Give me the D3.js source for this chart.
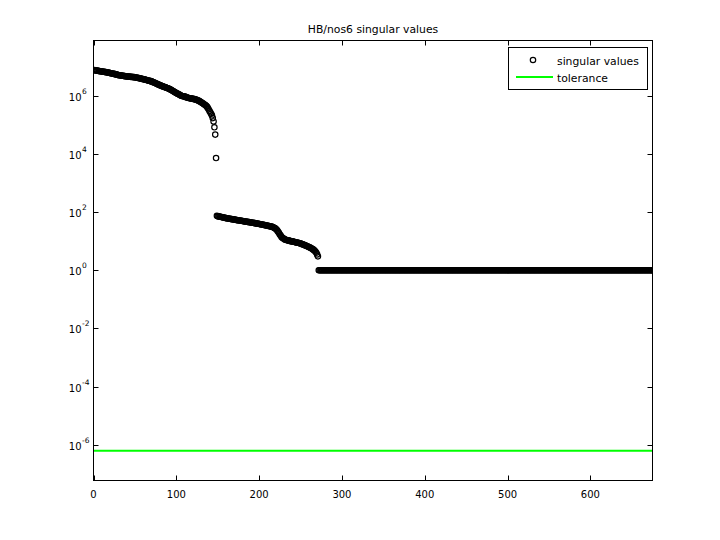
<!DOCTYPE html>
<html><head><meta charset="utf-8">
<script src="https://cdn.jsdelivr.net/npm/d3@7"></script>
<style>body{margin:0;background:#fff}</style>
</head><body>
<svg id="c" width="720" height="540"></svg>
<script>
const titleText = "HB/nos6 singular values";
const seriesNames = ["singular values", "tolerance"];
const xTicks = [0, 100, 200, 300, 400, 500, 600];
const yTickExponents = [-6, -4, -2, 0, 2, 4, 6];
// singular values, index 1..148
const svLeading = [
7.6e6,7.5e6,7.4e6,7.3e6,7.2e6,7.1e6,7.0e6,6.95e6,6.9e6,6.8e6,
6.7e6,6.65e6,6.6e6,6.5e6,6.45e6,6.4e6,6.3e6,6.2e6,6.1e6,6.0e6,
5.9e6,5.8e6,5.75e6,5.7e6,5.6e6,5.5e6,5.4e6,5.3e6,5.2e6,5.1e6,
5.05e6,5.0e6,4.95e6,4.9e6,4.85e6,4.8e6,4.75e6,4.7e6,4.65e6,4.6e6,
4.57e6,4.54e6,4.51e6,4.48e6,4.45e6,4.42e6,4.39e6,4.36e6,4.33e6,4.3e6,
4.24e6,4.18e6,4.12e6,4.06e6,4.0e6,3.94e6,3.88e6,3.82e6,3.76e6,3.7e6,
3.64e6,3.58e6,3.52e6,3.46e6,3.4e6,3.34e6,3.28e6,3.22e6,3.16e6,3.1e6,
3.0e6,2.92e6,2.84e6,2.76e6,2.68e6,2.6e6,2.52e6,2.44e6,2.37e6,2.3e6,
2.24e6,2.18e6,2.13e6,2.08e6,2.03e6,1.98e6,1.93e6,1.88e6,1.84e6,1.8e6,
1.74e6,1.68e6,1.62e6,1.56e6,1.5e6,1.44e6,1.38e6,1.33e6,1.28e6,1.23e6,
1.19e6,1.15e6,1.11e6,1.07e6,1.03e6,1.0e6,9.8e5,9.6e5,9.5e5,9.3e5,
9.1e5,8.9e5,8.7e5,8.5e5,8.3e5,8.2e5,8.1e5,8.0e5,7.9e5,7.8e5,
7.7e5,7.6e5,7.4e5,7.3e5,7.1e5,6.9e5,6.7e5,6.5e5,6.2e5,5.9e5,
5.7e5,5.5e5,5.2e5,5.0e5,4.8e5,4.5e5,4.2e5,3.8e5,3.4e5,3.0e5,
2.7e5,2.4e5,2.1e5,1.7e5,1.3e5,8.2e4,4.6e4,7.2e3
];
// singular values, index 149..271
const svMiddle = [
74,72,71,70,69,68,67,66,65,64,63,62,
61,60.5,60,59,58.5,58,57,56.5,56,55,
54.5,54,53,52.5,52,51.5,51,50.5,50,49,
48.5,48,47.5,47,46.5,46,45.5,45,44.5,44,
43.5,43,42.5,42,41.5,41,40.5,40,39.5,39,
38.5,38,37.5,37,36.5,36,35.5,35,34.5,34,
33.5,33,32.5,32,31.5,31,30,29,28,26.5,
25,23,21,19,17,15.5,14,13,12.5,12,
11.5,11.2,11,10.8,10.6,10.4,10.2,10,9.9,9.8,
9.6,9.5,9.3,9.2,9,8.9,8.8,8.6,8.5,8.3,
8.1,7.9,7.7,7.5,7.3,7.1,6.9,6.7,6.5,6.3,
6.1,5.9,5.7,5.5,5.2,5.0,4.7,4.4,4.0,3.5,3.0
];
// singular values, index 272..675
const svTail = [
1,1,1,1,1,1,1,1,1,1,1,1,1,1,1,1,1,1,1,1,1,1,1,1,1,1,1,1,1,1,1,1,1,1,1,1,1,1,1,1,1,1,1,1,1,1,1,1,1,1,
1,1,1,1,1,1,1,1,1,1,1,1,1,1,1,1,1,1,1,1,1,1,1,1,1,1,1,1,1,1,1,1,1,1,1,1,1,1,1,1,1,1,1,1,1,1,1,1,1,1,
1,1,1,1,1,1,1,1,1,1,1,1,1,1,1,1,1,1,1,1,1,1,1,1,1,1,1,1,1,1,1,1,1,1,1,1,1,1,1,1,1,1,1,1,1,1,1,1,1,1,
1,1,1,1,1,1,1,1,1,1,1,1,1,1,1,1,1,1,1,1,1,1,1,1,1,1,1,1,1,1,1,1,1,1,1,1,1,1,1,1,1,1,1,1,1,1,1,1,1,1,
1,1,1,1,1,1,1,1,1,1,1,1,1,1,1,1,1,1,1,1,1,1,1,1,1,1,1,1,1,1,1,1,1,1,1,1,1,1,1,1,1,1,1,1,1,1,1,1,1,1,
1,1,1,1,1,1,1,1,1,1,1,1,1,1,1,1,1,1,1,1,1,1,1,1,1,1,1,1,1,1,1,1,1,1,1,1,1,1,1,1,1,1,1,1,1,1,1,1,1,1,
1,1,1,1,1,1,1,1,1,1,1,1,1,1,1,1,1,1,1,1,1,1,1,1,1,1,1,1,1,1,1,1,1,1,1,1,1,1,1,1,1,1,1,1,1,1,1,1,1,1,
1,1,1,1,1,1,1,1,1,1,1,1,1,1,1,1,1,1,1,1,1,1,1,1,1,1,1,1,1,1,1,1,1,1,1,1,1,1,1,1,1,1,1,1,1,1,1,1,1,1,
1,1,1,1
];
const tolerance = 6.3e-7;
const xDomain = [0, 675];
const yDomain = [Math.pow(10, -7.227), Math.pow(10, 7.897)];

const singularValues = svLeading.concat(svMiddle, svTail);
const points = singularValues.map((v, i) => ({ i: i + 1, v }));

const svg = d3.select("#c");
const W = 720, H = 540;
const L = 93.5, T = 40.5, R = 652.5, B = 480.5;
const FONT = "'DejaVu Sans', sans-serif";

svg.append("rect").attr("width", W).attr("height", H).attr("fill", "#fff");

const x = d3.scaleLinear().domain(xDomain).range([L, R]);
const y = d3.scaleLog().domain(yDomain).range([B, T]);

const clip = svg.append("clipPath").attr("id", "clip");
clip.append("rect").attr("x", L).attr("y", T).attr("width", R - L).attr("height", B - T);

const plot = svg.append("g").attr("clip-path", "url(#clip)");

// tolerance line
plot.append("line")
  .attr("x1", x(xDomain[0])).attr("x2", x(xDomain[1]))
  .attr("y1", y(tolerance)).attr("y2", y(tolerance))
  .attr("stroke", "#00ff00").attr("stroke-width", 2);

// singular values
plot.selectAll("circle.sv").data(points).enter().append("circle")
  .attr("class", "sv")
  .attr("cx", d => x(d.i)).attr("cy", d => y(d.v))
  .attr("r", 2.7).attr("fill", "none").attr("stroke", "#000").attr("stroke-width", 1.2);

// axes box
svg.append("rect").attr("x", L).attr("y", T).attr("width", R - L).attr("height", B - T)
  .attr("fill", "none").attr("stroke", "#000").attr("stroke-width", 1);

const tl = 5;
// x ticks
const gx = svg.append("g");
xTicks.forEach(t => {
  const px = Math.round(x(t)) + 0.5;
  gx.append("line").attr("x1", px).attr("x2", px).attr("y1", B).attr("y2", B - tl).attr("stroke", "#000");
  gx.append("line").attr("x1", px).attr("x2", px).attr("y1", T).attr("y2", T + tl).attr("stroke", "#000");
  gx.append("text").attr("x", x(t)).attr("y", 498).attr("text-anchor", "middle")
    .attr("font-family", FONT).attr("font-size", 10).attr("fill", "#000").text(t);
});

// y ticks
const gy = svg.append("g");
yTickExponents.forEach(e => {
  const py = Math.round(y(Math.pow(10, e))) + 0.5;
  gy.append("line").attr("x1", L).attr("x2", L + tl).attr("y1", py).attr("y2", py).attr("stroke", "#000");
  gy.append("line").attr("x1", R).attr("x2", R - tl).attr("y1", py).attr("y2", py).attr("stroke", "#000");
  gy.append("text").attr("x", 81.5).attr("y", py + 4).attr("text-anchor", "end")
    .attr("font-family", FONT).attr("font-size", 10).attr("fill", "#000").text("10");
  gy.append("text").attr("x", 82).attr("y", py - 3).attr("text-anchor", "start")
    .attr("font-family", FONT).attr("font-size", 7.5).attr("fill", "#000").text(String(e));
});

// title
svg.append("text").attr("x", (L + R) / 2).attr("y", 33).attr("text-anchor", "middle")
  .attr("font-family", FONT).attr("font-size", 10.8).attr("fill", "#000").text(titleText);

// legend
const lg = svg.append("g");
lg.append("rect").attr("x", 508.5).attr("y", 47.5).attr("width", 139).attr("height", 42)
  .attr("fill", "#fff").attr("stroke", "#000").attr("stroke-width", 1);
lg.append("circle").attr("cx", 533).attr("cy", 60).attr("r", 2.7)
  .attr("fill", "none").attr("stroke", "#000").attr("stroke-width", 1.2);
lg.append("line").attr("x1", 516).attr("x2", 553).attr("y1", 77).attr("y2", 77)
  .attr("stroke", "#00ff00").attr("stroke-width", 2);
lg.append("text").attr("x", 557).attr("y", 65).attr("font-family", FONT).attr("font-size", 10.8)
  .attr("fill", "#000").text(seriesNames[0]);
lg.append("text").attr("x", 557).attr("y", 82).attr("font-family", FONT).attr("font-size", 10.8)
  .attr("fill", "#000").text(seriesNames[1]);
</script>
</body></html>
